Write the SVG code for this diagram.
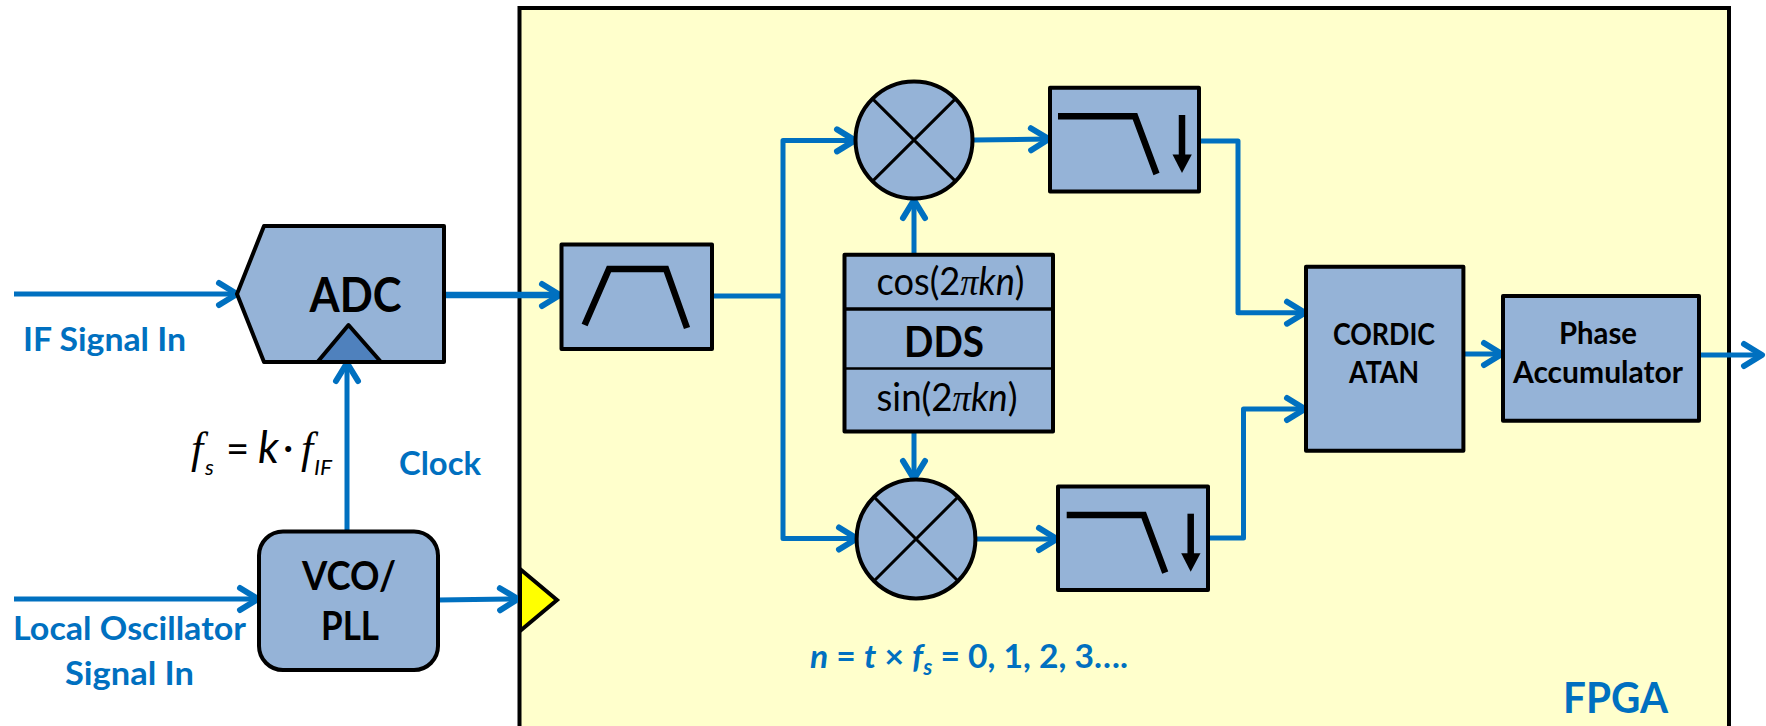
<svg xmlns="http://www.w3.org/2000/svg" width="1766" height="726" viewBox="0 0 1766 726">
<style>
.b{fill:#95B3D7;stroke:#000;stroke-width:4;stroke-linejoin:round}
.k{fill:none;stroke:#000;stroke-width:6.5;stroke-linejoin:miter}
.x{fill:none;stroke:#000;stroke-width:3}
.c{fill:none;stroke:#0070C0;stroke-width:5;stroke-linejoin:round;marker-end:url(#a)}
text{font-family:Lato,"Liberation Sans",sans-serif}
.t{font-weight:700;fill:#000;text-anchor:middle}
.l{font-weight:700;fill:#0070C0}
.m{font-family:"Liberation Serif",serif;font-style:italic}
.s{font-style:italic}
</style>
<defs>
<marker id="a" markerUnits="userSpaceOnUse" markerWidth="30" markerHeight="30" refX="24" refY="15" orient="auto" overflow="visible">
<path d="M6,4 L24,15 L6,26" fill="none" stroke="#0070C0" stroke-width="6" stroke-linecap="round" stroke-linejoin="round"/>
</marker>
</defs>
<g id="fpga">
<rect x="519.5" y="8" width="1209.5" height="730" fill="#FFFFCC" stroke="#000" stroke-width="4"/>
<text class="l" x="1563" y="713" font-size="42" textLength="105" lengthAdjust="spacingAndGlyphs">FPGA</text>
<text class="l" x="810" y="668" font-size="33" textLength="318" lengthAdjust="spacingAndGlyphs"><tspan font-style="italic">n</tspan> = <tspan font-style="italic">t</tspan> × <tspan font-style="italic">f</tspan><tspan font-size="22" dy="7" font-style="italic">s</tspan><tspan dy="-7"> = 0, 1, 2, 3….</tspan></text>
</g>
<g id="connectors">
<path class="c" d="M14,294 H237"/>
<path class="c" d="M444,295 H560" stroke-width="6.5" style="stroke-width:6.5"/>
<path class="c" d="M347,531 V363"/>
<path class="c" d="M14,599 H258"/>
<path class="c" d="M438,600 L518,599"/>
<path fill="none" stroke="#0070C0" stroke-width="5" d="M712,296 H783"/>
<path class="c" d="M783,296 V140.4 H855"/>
<path class="c" d="M783,296 V538.5 H857"/>
<path class="c" d="M914,254 V200"/>
<path class="c" d="M914,431 V479"/>
<path class="c" d="M974,140 L1049,139"/>
<path class="c" d="M976,539 H1057"/>
<path class="c" d="M1199,141 H1238 V312.7 H1305"/>
<path class="c" d="M1208,538 H1243.5 V409 H1305"/>
<path class="c" d="M1463,354 H1502"/>
<path class="c" d="M1699,355 H1762"/>
</g>
<g id="adc">
<path class="b" d="M264,226 H444 V362 H264 L237,294 Z"/>
<path d="M348.5,325 L317.5,362 H381 Z" fill="#4F81BD" stroke="#000" stroke-width="4" stroke-linejoin="round"/>
<text class="t" x="355.5" y="312" font-size="48" textLength="92" lengthAdjust="spacingAndGlyphs">ADC</text>
</g>
<g id="vco">
<rect class="b" x="259" y="531.5" width="179" height="138.5" rx="24"/>
<text class="t" x="349" y="590" font-size="41" textLength="94" lengthAdjust="spacingAndGlyphs">VCO/</text>
<text class="t" x="350" y="640" font-size="41" textLength="58" lengthAdjust="spacingAndGlyphs">PLL</text>
</g>
<g id="clock-pin">
<path d="M520,569 L557,600 L520,631 Z" fill="#FFFF00" stroke="#000" stroke-width="4"/>
</g>
<g id="labels">
<text class="l" x="23" y="351" font-size="33" textLength="163" lengthAdjust="spacingAndGlyphs">IF Signal In</text>
<text class="l" x="13" y="640" font-size="33" textLength="233" lengthAdjust="spacingAndGlyphs">Local Oscillator</text>
<text class="l" x="65" y="685" font-size="33" textLength="129" lengthAdjust="spacingAndGlyphs">Signal In</text>
<text class="l" x="399" y="474.5" font-size="33" textLength="82" lengthAdjust="spacingAndGlyphs">Clock</text>
<text class="m" x="191" y="463" font-size="44">f</text>
<text class="s" x="205" y="475" font-size="22">s</text>
<text x="226" y="463" font-size="40">=</text>
<text class="s" x="258" y="463" font-size="44">k</text>
<text x="283" y="461" font-size="40">·</text>
<text class="m" x="301" y="463" font-size="44">f</text>
<text class="s" x="314" y="475" font-size="22" textLength="18" lengthAdjust="spacingAndGlyphs">IF</text>
</g>
<g id="bpf">
<rect class="b" x="561.5" y="244.5" width="150.5" height="104.5"/>
<path class="k" d="M584.6,325 L609,269 H666 L687,328"/>
</g>
<g id="mixer-i">
<circle class="b" cx="914" cy="140" r="58.5"/>
<path class="x" d="M873.4,99.6 L954.6,180.4 M954.6,99.6 L873.4,180.4"/>
</g>
<g id="mixer-q">
<circle class="b" cx="916" cy="539" r="59.4"/>
<path class="x" d="M875,498 L957,580 M957,498 L875,580"/>
</g>
<g id="dds">
<rect class="b" x="844.5" y="254.7" width="208.5" height="176.7"/>
<path d="M844.5,309 H1053" stroke="#000" stroke-width="3.5" fill="none"/>
<path d="M844.5,368.6 H1053" stroke="#000" stroke-width="2.5" fill="none"/>
<text x="950.5" y="294.7" font-size="38" text-anchor="middle" textLength="148" lengthAdjust="spacingAndGlyphs">cos(2<tspan class="m">π</tspan><tspan class="s">kn</tspan>)</text>
<text class="t" x="944" y="357" font-size="42" textLength="80" lengthAdjust="spacingAndGlyphs">DDS</text>
<text x="947" y="411" font-size="38" text-anchor="middle" textLength="141" lengthAdjust="spacingAndGlyphs">sin(2<tspan class="m">π</tspan><tspan class="s">kn</tspan>)</text>
</g>
<g id="lpf-i">
<rect class="b" x="1050" y="87.8" width="149" height="103.6"/>
<path class="k" d="M1058,116.3 H1135 L1156.5,174"/>
<path d="M1182,115 V156" stroke="#000" stroke-width="6.5" fill="none"/>
<path d="M1172.5,154.5 H1191.8 L1182,173 Z"/>
</g>
<g id="lpf-q">
<rect class="b" x="1058" y="486.5" width="150" height="103.5"/>
<path class="k" d="M1066.7,515 H1143.7 L1165.2,572.7"/>
<path d="M1190.7,513.7 V554.7" stroke="#000" stroke-width="6.5" fill="none"/>
<path d="M1181.2,553.2 H1200.5 L1190.7,571.7 Z"/>
</g>
<g id="cordic">
<rect class="b" x="1306" y="266.7" width="157.4" height="184"/>
<text class="t" x="1384" y="345" font-size="30" textLength="102" lengthAdjust="spacingAndGlyphs">CORDIC</text>
<text class="t" x="1384" y="382.7" font-size="30" textLength="70" lengthAdjust="spacingAndGlyphs">ATAN</text>
</g>
<g id="phase">
<rect class="b" x="1503" y="296" width="196" height="124.7"/>
<text class="t" x="1598" y="344" font-size="30" textLength="78" lengthAdjust="spacingAndGlyphs">Phase</text>
<text class="t" x="1598" y="383" font-size="30" textLength="170" lengthAdjust="spacingAndGlyphs">Accumulator</text>
</g>
</svg>
